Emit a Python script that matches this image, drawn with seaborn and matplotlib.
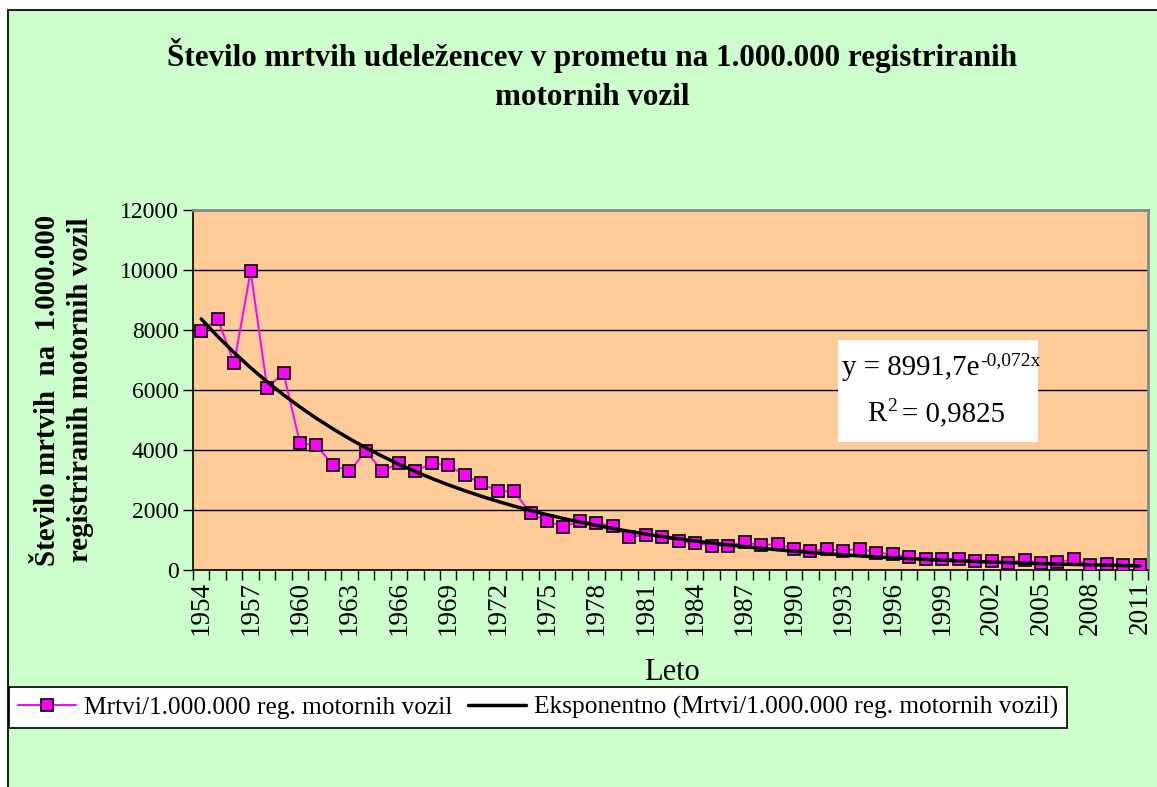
import numpy as np
import pandas as pd
import matplotlib
matplotlib.use("Agg")
import matplotlib.pyplot as plt
from matplotlib.patches import Rectangle
from matplotlib.ticker import MultipleLocator, FixedLocator
import seaborn as sns

years = list(range(1954, 2012))
deaths = [7970, 8360, 6890, 9960, 6080, 6560, 4220, 4160, 3490, 3290,
          3970, 3290, 3560, 3290, 3560, 3490, 3160, 2890, 2620, 2620,
          1890, 1630, 1430, 1640, 1560, 1480, 1090, 1170, 1100, 960,
          890, 810, 810, 920, 830, 860, 700, 630, 700, 640,
          710, 580, 520, 420, 360, 370, 380, 290, 300, 240,
          330, 240, 256, 356, 167, 189, 178, 178]
tick_labels = [str(y) for y in years[::3]]

# trendline parameters as printed on the chart (Excel exponential fit, x = 1..n)
trend_a = 8991.7
trend_b = -0.072
r_squared = "0,9825"

title = "Število mrtvih udeležencev v prometu na 1.000.000 registriranih\nmotornih vozil"
ylabel = "Število mrtvih  na  1.000.000\nregistriranih motornih vozil"
xlabel = "Leto"
series_name = "Mrtvi/1.000.000 reg. motornih vozil"
trend_name = "Eksponentno (Mrtvi/1.000.000 reg. motornih vozil)"

xn = np.arange(1, len(years) + 1)
trend = trend_a * np.exp(trend_b * xn)

df = pd.DataFrame({"pos": np.arange(len(years)), "deaths": deaths, "trend": trend})

sns.set_theme(style="white")
plt.rcParams["font.family"] = ["Liberation Serif", "DejaVu Serif"]
plt.rcParams["text.color"] = "black"
plt.rcParams["xtick.color"] = "black"
plt.rcParams["ytick.color"] = "black"

W, H = 1157, 787
fig = plt.figure(figsize=(W / 100, H / 100), dpi=100, facecolor="white")
# chart area background with border
bg = Rectangle((8 / W, -0.01), 1.02, (H - 10) / H + 0.01,
               transform=fig.transFigure, facecolor="#CCFFCC",
               edgecolor="#222222", linewidth=1.5, zorder=-10)
fig.add_artist(bg)

ax = fig.add_axes([193 / W, (H - 570) / H, (1148 - 193) / W, 360 / H])
ax.set_zorder(1)
ax.set_facecolor("#FFCC99")

sns.lineplot(data=df, x="pos", y="deaths", ax=ax, color="#FF00FF", linewidth=1.4,
             marker="s", markersize=8.5, markerfacecolor="#FF00FF",
             markeredgecolor="#111111", markeredgewidth=1.3, label=series_name, zorder=3)
sns.lineplot(data=df, x="pos", y="trend", ax=ax, color="black", linewidth=2.5,
             label=trend_name, zorder=4)

ax.set_xlim(-0.5, len(years) - 0.5)
ax.set_ylim(0, 12000)
ax.yaxis.set_major_locator(MultipleLocator(2000))
ax.grid(axis="y", color="black", linewidth=1)
ax.set_axisbelow(True)

ax.xaxis.set_major_locator(FixedLocator(np.arange(0, len(years), 3)))
ax.set_xticklabels(tick_labels, rotation=90, fontsize=19.5)
ax.xaxis.set_minor_locator(FixedLocator(np.arange(-0.5, len(years), 1)))
ax.tick_params(axis="x", which="major", length=0, pad=8)
ax.tick_params(axis="x", which="minor", length=7, width=1, color="black", direction="out", bottom=True)
ax.tick_params(axis="y", which="major", length=7, width=1, color="black", direction="out",
               left=True, labelsize=17, pad=3)

for s in ["left", "bottom"]:
    ax.spines[s].set_color("black")
    ax.spines[s].set_linewidth(1.2)
for s in ["top", "right"]:
    ax.spines[s].set_color("#888888")
    ax.spines[s].set_linewidth(2)

ax.set_xlabel("")
ax.set_ylabel("")

fig.text(592 / W, 1 - 75 / H, title, ha="center", va="center", fontsize=22.4,
         fontweight="bold", linespacing=1.45)
fig.text(64 / W, 1 - 390 / H, ylabel, ha="center", va="center", rotation=90,
         fontsize=20.8, fontweight="bold", linespacing=1.3)
fig.text(672 / W, 1 - 672 / H, xlabel, ha="center", va="center", fontsize=22)

# equation box (white) with text built from plain text pieces
box_x0, box_x1 = (838 - 193) / 955, (1038 - 193) / 955
box_y0, box_y1 = (570 - 442) / 360, (570 - 340) / 360
ax.add_patch(Rectangle((box_x0, box_y0), box_x1 - box_x0, box_y1 - box_y0,
                       transform=ax.transAxes, facecolor="white", edgecolor="none", zorder=6))
t1 = ax.text(0.680, (570 - 375) / 360, "y = 8991,7e", transform=ax.transAxes,
             ha="left", va="baseline", fontsize=20.8, zorder=7)
ax.annotate("-0,072x", xy=(1, 1), xycoords=t1, xytext=(0.5, -4),
            textcoords="offset points", ha="left", va="center", fontsize=14, zorder=7)
t2 = ax.text(0.706, (570 - 421) / 360, "R", transform=ax.transAxes,
             ha="left", va="baseline", fontsize=20.8, zorder=7)
ax.annotate("2", xy=(1, 1), xycoords=t2, xytext=(0.5, -4),
            textcoords="offset points", ha="left", va="center", fontsize=14, zorder=7)
ax.text(0.742, (570 - 421) / 360, "= " + r_squared, transform=ax.transAxes,
        ha="left", va="baseline", fontsize=20.8, zorder=7)

ax.get_legend().remove()
h, l = ax.get_legend_handles_labels()
leg = fig.legend(h, l, loc="lower left", bbox_to_anchor=(9 / W, (H - 728) / H),
                 ncol=2, frameon=True, fancybox=False, edgecolor="black",
                 facecolor="white", framealpha=1, fontsize=18.3, handlelength=2.3,
                 handletextpad=0.3, columnspacing=0.6, borderpad=0.35,
                 borderaxespad=0)
leg.get_frame().set_linewidth(1.2)

fig.savefig("out.png", dpi=100, facecolor=fig.get_facecolor())
